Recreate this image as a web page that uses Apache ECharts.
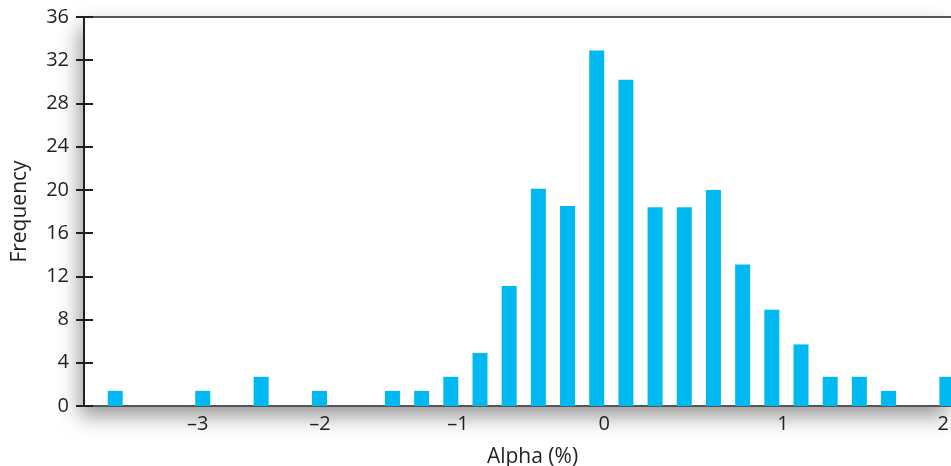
<!DOCTYPE html>
<html>
<head>
<meta charset="utf-8">
<script src="https://cdn.jsdelivr.net/npm/echarts@6/dist/echarts.min.js"></script>
<style>html,body{margin:0;padding:0;background:#fff;overflow:hidden}#c{width:951px;height:466px}</style>
</head>
<body>
<div id="c"></div>
<script>
// Bin positions (in bin-slot units along the x axis) and frequencies
const binPositions = [-9.5, -6.5, -4.5, -2.5, 0, 1, 2, 3, 4, 5, 6, 7, 8, 9, 10, 11, 12, 13, 14, 15, 16, 17, 19];
const frequencies  = [1.4, 1.4, 2.7, 1.4, 1.4, 1.4, 2.7, 4.9, 11.1, 20.1, 18.5, 32.9, 30.2, 18.4, 18.4, 20.0, 13.1, 8.9, 5.7, 2.7, 2.7, 1.4, 2.7];
// X tick labels and where they sit on the bin-slot scale
const xTickLabels = ['\u20133', '\u20132', '\u20131', '0', '1', '2'];
const xTickPositions = [-6.67, -2.48, 2.245, 7.26, 13.38, 18.87];
const yTicks = [0, 4, 8, 12, 16, 20, 24, 28, 32, 36];

const FONT = 'Open Sans';
const TXT = '#231f20';
const X_MIN = -10.57, X_MAX = 19.14;

const chart = echarts.init(document.getElementById('c'), null, {renderer: 'canvas', width: 951, height: 466});
const option = {
  animation: false,
  grid: {
    left: 84, top: 17, width: 867, height: 389,
    outerBoundsMode: 'none', containLabel: false,
    show: true, backgroundColor: '#fff', borderWidth: 0,
    shadowColor: 'rgba(0,0,0,0.42)', shadowBlur: 20, shadowOffsetX: -4, shadowOffsetY: 10
  },
  xAxis: [{
    type: 'value', min: X_MIN, max: X_MAX,
    axisLine: {show: true, onZero: false, lineStyle: {color: '#555', width: 1.8}},
    axisTick: {show: false},
    splitLine: {show: false},
    axisLabel: {
      customValues: xTickPositions,
      margin: 8,
      fontFamily: FONT, fontSize: 20, color: TXT,
      formatter: function (v) {
        let best = 0, bd = Infinity;
        xTickPositions.forEach((p, i) => { const d = Math.abs(p - v); if (d < bd) { bd = d; best = i; } });
        return xTickLabels[best];
      }
    },
    name: 'Alpha (%)', nameLocation: 'middle', nameGap: 41,
    nameTextStyle: {fontFamily: FONT, fontSize: 21, color: TXT, padding: [0, 0, 0, 30]}
  }, {
    type: 'value', position: 'top', min: X_MIN, max: X_MAX,
    axisLine: {show: true, onZero: false, lineStyle: {color: '#555', width: 1.8}},
    axisTick: {show: false}, axisLabel: {show: false}, splitLine: {show: false}
  }],
  yAxis: [{
    type: 'value', min: 0, max: 36, interval: 4,
    axisLine: {show: true, onZero: false, lineStyle: {color: TXT, width: 2}},
    axisTick: {show: true, inside: false, length: 8, lineStyle: {color: TXT, width: 2}},
    splitLine: {show: false},
    axisLabel: {margin: 15, fontFamily: FONT, fontSize: 20, color: TXT,
      formatter: v => yTicks.includes(v) ? String(v) : ''},
    name: 'Frequency', nameLocation: 'middle', nameGap: 53,
    nameTextStyle: {fontFamily: FONT, fontSize: 21, color: TXT}
  }, {
    type: 'value', position: 'left', min: 0, max: 36, interval: 4,
    axisLine: {show: false, onZero: false},
    axisTick: {show: true, inside: true, length: 9, lineStyle: {color: TXT, width: 2}},
    axisLabel: {show: false}, splitLine: {show: false}
  }],
  series: [{
    type: 'bar',
    xAxisIndex: 0, yAxisIndex: 0,
    barWidth: 15,
    itemStyle: {color: '#00b9f1'},
    data: binPositions.map((x, i) => [x, frequencies[i]])
  }]
};
chart.setOption(option);
</script>
</body>
</html>
